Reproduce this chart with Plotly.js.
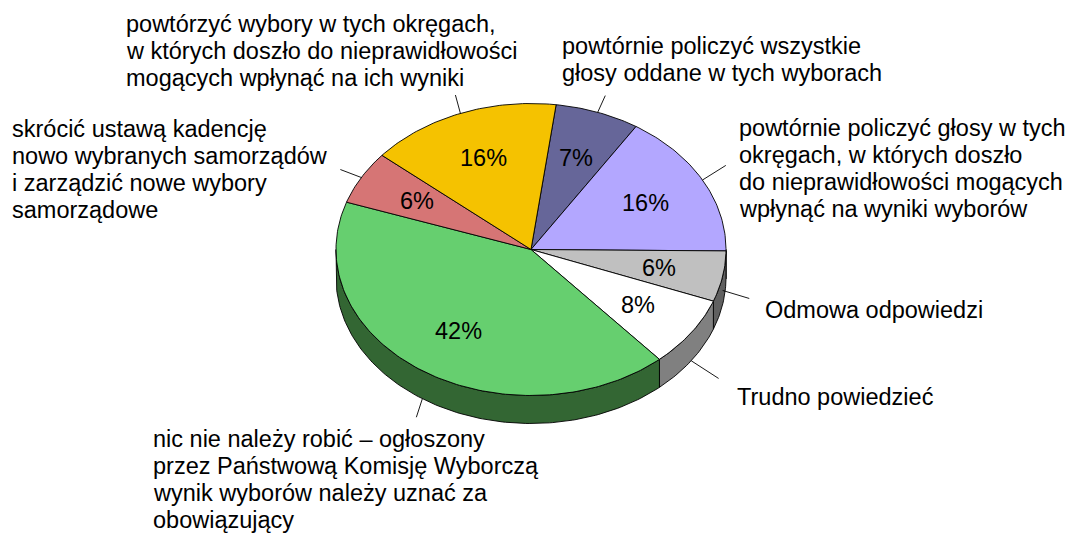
<!DOCTYPE html>
<html><head><meta charset="utf-8">
<script src="https://cdn.plot.ly/plotly-3.0.1.min.js"></script>
<style>html,body{margin:0;padding:0;background:#fff}#chart{width:1067px;height:536px}</style>
</head><body><div id="chart"></div>
<script>
// ---- data (slices in clockwise order, starting from the top) ----
const categories = [
  "powtórnie policzyć wszystkie<br>głosy oddane w tych wyborach",
  "powtórnie policzyć głosy w tych<br>okręgach, w których doszło<br>do nieprawidłowości mogących<br>wpłynąć na wyniki wyborów",
  "Odmowa odpowiedzi",
  "Trudno powiedzieć",
  "nic nie należy robić – ogłoszony<br>przez Państwową Komisję Wyborczą<br>wynik wyborów należy uznać za<br>obowiązujący",
  "skrócić ustawą kadencję<br>nowo wybranych samorządów<br>i zarządzić nowe wybory<br>samorządowe",
  "powtórzyć wybory w tych okręgach,<br>w których doszło do nieprawidłowości<br>mogących wpłynąć na ich wyniki"
];
const values = [7.0, 16.1, 5.6, 7.8, 41.7, 5.9, 15.9];

// ---- styles / layout ----
const topColors  = ['#666699','#B3A7FF','#C0C0C0','#FFFFFF','#66CF6F','#D67575','#F5C200'];
const sideColors = ['#333366','#5A5480','#606060','#808080','#336633','#6B3A3A','#7A6100'];
const labelPos   = [[562,54],[739,136],[765,318],[737,405],[153,447],[12,136.5],[126,32]]; // left x, first baseline
const leaderOff  = [[7.6,-16.7],[23.3,-14.6],[26.6,8],[27.4,17.7],[-6,18.5],[-21,-8],[-5,-18.4]];
const leaderDepth= [0,0,0.5,1,1,0,0];
const FONT = 'Liberation Sans, Arial, sans-serif';
const FS = 23.5, PITCH = 27.1;

const CX=531, CY=249.5, RX=195, RY=146, DEPTH=28, START=7.4;
function pt(th, dy){ const r=th*Math.PI/180; return [CX+RX*Math.sin(r), CY-RY*Math.cos(r)+(dy||0)]; }

const total = values.reduce((a,b)=>a+b,0);
const angles=[]; let acc=START;
values.forEach(v=>{ const b=acc+v/total*360; angles.push([acc,b]); acc=b; });

function arc(a0,a1,dy){
  const out=[]; const n=Math.max(2,Math.ceil(Math.abs(a1-a0)/1));
  for(let i=0;i<=n;i++){ out.push(pt(a0+(a1-a0)*i/n,dy)); }
  return out;
}

const traces=[];
// side walls
angles.forEach(([a0,a1],k)=>{
  const s=Math.max(a0,90), e=Math.min(a1,270);
  if(e>s){
    const pts=arc(s,e,0).concat(arc(e,s,DEPTH));
    pts.push(pts[0]);
    traces.push({type:'scatter',mode:'lines',x:pts.map(p=>p[0]),y:pts.map(p=>p[1]),
      fill:'toself',fillcolor:sideColors[k],line:{color:'#000',width:0.9},hoverinfo:'skip'});
  }
});
// top faces
angles.forEach(([a0,a1],k)=>{
  const pts=[[CX,CY]].concat(arc(a0,a1,0)); pts.push([CX,CY]);
  traces.push({type:'scatter',mode:'lines',x:pts.map(p=>p[0]),y:pts.map(p=>p[1]),
    fill:'toself',fillcolor:topColors[k],line:{color:'#000',width:0.9},hoverinfo:'skip'});
});

const annotations=[], shapes=[];
angles.forEach(([a0,a1],k)=>{
  const mid=(a0+a1)/2, r=mid*Math.PI/180;
  annotations.push({x:CX+0.67*RX*Math.sin(r), y:CY-0.67*RY*Math.cos(r), xref:'x', yref:'y',
    text:Math.round(values[k]/total*100)+'%', showarrow:false, xanchor:'center', yanchor:'middle',
    font:{family:FONT,size:FS,color:'#000'}});
  const lines=categories[k].split('<br>');
  lines.forEach((t,i)=>{
    annotations.push({x:labelPos[k][0]-2, y:labelPos[k][1]+i*PITCH-8, xref:'x', yref:'y', text:t,
      showarrow:false, xanchor:'left', yanchor:'middle', font:{family:FONT,size:FS,color:'#000'}});
  });
  const s=pt(mid, DEPTH*leaderDepth[k]);
  shapes.push({type:'line',xref:'x',yref:'y',x0:s[0],y0:s[1],x1:s[0]+leaderOff[k][0],y1:s[1]+leaderOff[k][1],
    line:{color:'#000',width:0.9}});
});

const layout={width:1067,height:536,margin:{l:0,r:0,t:0,b:0},showlegend:false,
  paper_bgcolor:'#fff',plot_bgcolor:'#fff',
  xaxis:{range:[0,1067],visible:false,fixedrange:true},
  yaxis:{range:[536,0],visible:false,fixedrange:true},
  annotations:annotations, shapes:shapes};
Plotly.newPlot('chart',traces,layout,{displayModeBar:false,staticPlot:true});
</script></body></html>
